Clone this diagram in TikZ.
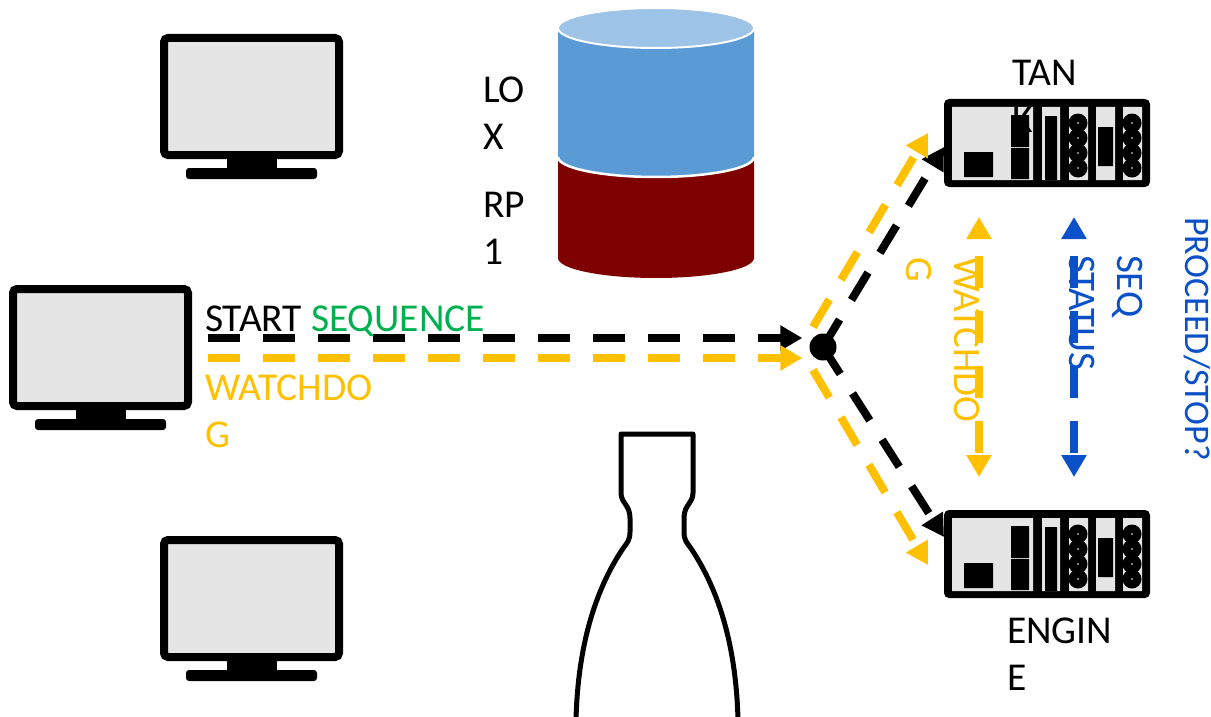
\documentclass[tikz,border=0pt]{standalone}
\usepackage{fontspec}
\setmainfont{Carlito}
\usetikzlibrary{arrows.meta}

\definecolor{wdyellow}{HTML}{FFC000}
\definecolor{seqgreen}{HTML}{00B050}
\definecolor{seqblue}{RGB}{10,80,200}
\definecolor{screengray}{HTML}{E5E5E5}
\definecolor{loxblue}{HTML}{5B9BD5}
\definecolor{loxtop}{HTML}{9DC3E6}
\definecolor{rpred}{HTML}{7F0000}

\tikzset{
  lbl/.style={inner sep=0pt, outer sep=0pt, align=left, font=\fontsize{39.5}{47}\selectfont},
  vlbl/.style={lbl, rotate=-90, font=\fontsize{39}{48}\selectfont},
  flow/.style={line width=8pt, dash pattern=on 32pt off 23pt, -{Triangle[length=22pt,width=24pt]}},
  twoway/.style={line width=8pt, dash pattern=on 32pt off 23pt, dash phase=37pt,
                 {Triangle[length=22pt,width=24pt]}-{Triangle[length=22pt,width=24pt]}},
  % desktop monitor, origin at the outer top-left corner of the screen
  monitor/.pic={
    \filldraw[fill=screengray, draw=black, line width=8pt, rounded corners=4pt] (4,4) rectangle (179,121);
    \fill[black] (67,121) rectangle (117,135);
    \fill[black, rounded corners=3pt] (26,134) rectangle (157,145);
  },
  % rack controller with five slots
  controller/.pic={
    \node[minimum width=206pt, minimum height=88pt, inner sep=0pt, outer sep=0pt, anchor=north west] (-box) at (0,0) {};
    \fill[black, rounded corners=5pt] (0,0) rectangle (206,88);
    \fill[screengray] (8,8) rectangle (89,81) (98,8) rectangle (116,81) (125,8) rectangle (144,81)
                      (152,8) rectangle (171,81) (179,8) rectangle (198,81);
    \fill[black] (20,53) rectangle (49,78) (67,16) rectangle (85,48) (67,49) rectangle (85,80)
                 (101,17) rectangle (113,81) (154,28) rectangle (169,67);
    \foreach \cx in {134,188} {
      \foreach \cy in {24,39,54,69} {
        \fill[black] (\cx,\cy) circle[radius=9.5];
        \fill[white] (\cx,\cy) circle[radius=0.8];
      }
    }
  }
}

\begin{document}
\begin{tikzpicture}[x=1pt,y=-1pt]
\useasboundingbox (0,0) rectangle (1211,717);

% propellant tank: LOX over RP-1
\fill[rpred] (754,157) -- (754,258) arc[start angle=0, end angle=180, x radius=98, y radius=20]
  -- (558,157) arc[start angle=180, end angle=0, x radius=98, y radius=20] -- cycle;
\fill[loxblue] (754,28) -- (754,157) arc[start angle=0, end angle=180, x radius=98, y radius=20]
  -- (558,28) arc[start angle=180, end angle=0, x radius=98, y radius=20] -- cycle;
\draw[white, line width=2.5pt] (754,157) arc[start angle=0, end angle=180, x radius=98, y radius=20];
\filldraw[fill=loxtop, draw=white, line width=2pt] (656,28) ellipse[x radius=98, y radius=20];

% engine nozzle
\draw[line width=5pt, line join=round]
  (576,720) .. controls (578,640) and (598,585) .. (624,547)
  .. controls (627,543) and (630,540) .. (630,532) -- (630,518)
  .. controls (630,505) and (621,503) .. (621,493) -- (621,434) -- (693,434) -- (693,493)
  .. controls (693,503) and (684,505) .. (684,518) -- (684,532)
  .. controls (684,540) and (687,543) .. (690,547)
  .. controls (716,585) and (736,640) .. (738,720);

% ground stations
\pic at (160,34) {monitor};
\pic at (9,285) {monitor};
\pic at (160,536) {monitor};

% controllers
\pic (tank) at (944,99) {controller};
\pic (engine) at (944,510) {controller};

% junction
\node[circle, fill=black, minimum size=27pt, inner sep=0pt] (j) at (823,347) {};

% commands from the operator station
\coordinate (cmd) at (208,338);
\coordinate (wd) at (208,358);
\draw[flow, black] (cmd) -- ([xshift=-7pt]cmd -| j.west);
\draw[flow, wdyellow] (wd) -- ([xshift=-7pt]wd -| j.west);

% fan-out to the controllers
\draw[flow, black] (j.center) -- ([yshift=-4pt]tank-box.west);
\draw[flow, black] (j.center) -- ([yshift=17pt]engine-box.west);
\coordinate (wdt0) at (813,327);
\coordinate (wdt1) at (928,133);
\coordinate (wde0) at (813,370);
\coordinate (wde1) at (928,565);
\draw[flow, wdyellow] (wdt0) -- (wdt1);
\draw[flow, wdyellow] (wde0) -- (wde1);

% links between the controllers
\coordinate (wdu) at (979,217);
\coordinate (wdd) at (979,477);
\coordinate (squ) at (1074,217);
\coordinate (sqd) at (1074,477);
\draw[twoway, wdyellow] (wdu) -- (wdd);
\draw[twoway, seqblue] (squ) -- (sqd);

% labels
\node[lbl, anchor=base west] (tstart) at (205,331) {START \textcolor{seqgreen}{SEQUENCE}};
\node[lbl, anchor=north west, text=wdyellow] (twd) at (205,375) {WATCHDO\\G};
\node[lbl, anchor=north west] (tlox) at (483,77) {LO\\X};
\node[lbl, anchor=north west] (trp) at (483,192) {RP\\1};
\node[lbl, anchor=north west] (ttank) at (1012,60) {TAN\\K};
\node[lbl, anchor=north west] (teng) at (1007,618) {ENGIN\\E};
\node[vlbl, anchor=north west, text=wdyellow] (twdv) at (980,257) {WATCHDO\\G};
\node[vlbl, anchor=north west, text=seqblue] (tseq) at (1143,255) {SEQ\\STATUS};
\node[vlbl, anchor=base west, text=seqblue, font=\fontsize{36}{48}\selectfont] (tgo) at (1185,217) {PROCEED/STOP?};
\end{tikzpicture}
\end{document}
